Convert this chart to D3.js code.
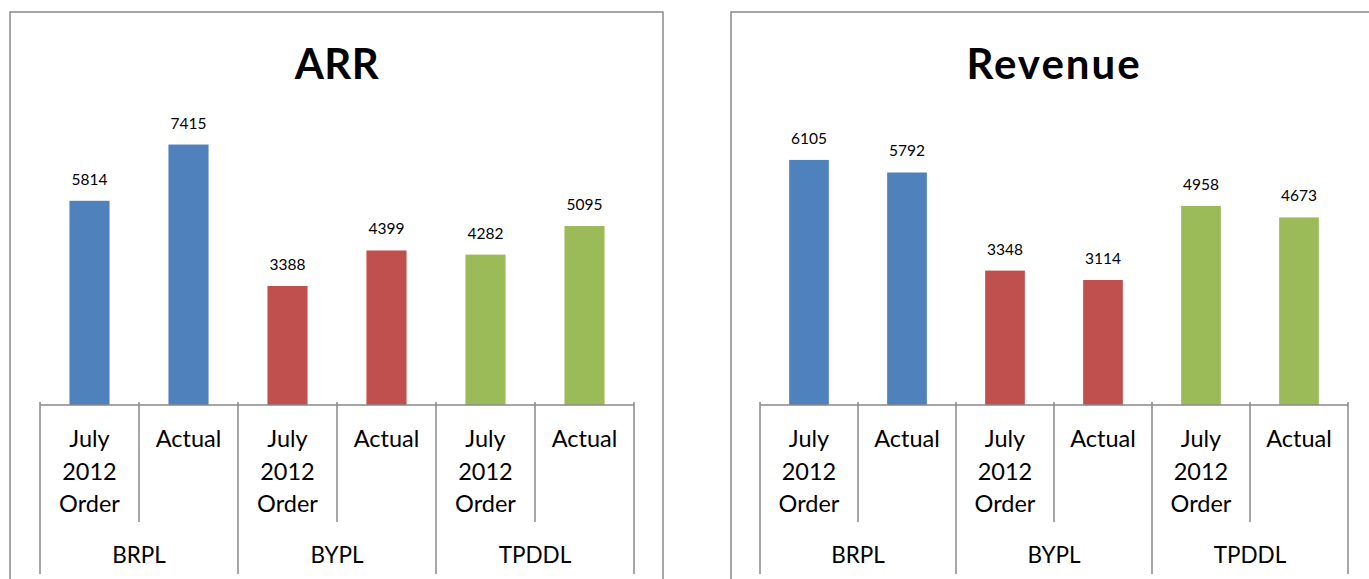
<!DOCTYPE html>
<html><head><meta charset="utf-8">
<script src="https://cdn.jsdelivr.net/npm/d3@7"></script>
<style>body{margin:0;background:#fff}svg{display:block}</style>
</head><body>
<svg id="c" width="1369" height="579"></svg>
<script>
const groups = ["BRPL", "BYPL", "TPDDL"];
const subCategories = ["July 2012 Order", "Actual"];
const arrValues = [5814, 7415, 3388, 4399, 4282, 5095];
const revenueValues = [6105, 5792, 3348, 3114, 4958, 4673];
const groupColors = ["#4F81BD", "#C0504D", "#9BBB59"];

const svg = d3.select("#c");
const font = "Lato, 'Open Sans', sans-serif";

function drawChart(cfg) {
  const g = svg.append("g");
  g.append("rect").attr("x", cfg.frame[0]).attr("y", cfg.frame[1])
    .attr("width", cfg.frame[2]).attr("height", cfg.frame[3])
    .attr("fill", "none").attr("stroke", "#898989").attr("stroke-width", 1.5);
  g.append("text").attr("x", (cfg.x0 + cfg.x1) / 2).attr("y", 79)
    .attr("text-anchor", "middle").attr("font-family", font)
    .attr("font-weight", "bold").attr("font-size", 42).attr("fill", "#000")
    .attr("letter-spacing", cfg.titleSpacing)
    .text(cfg.title);

  const cats = [];
  groups.forEach(gr => subCategories.forEach(s => cats.push(gr + "|" + s)));
  const x = d3.scaleBand().domain(cats).range([cfg.x0, cfg.x1]).paddingInner(0).paddingOuter(0);
  const y = d3.scaleLinear().domain([0, cfg.max]).range([405, 124]);
  const bw = x.bandwidth() * 0.405;

  const data = cfg.values.map((v, i) => ({ key: cats[i], v, grp: Math.floor(i / 2) }));
  g.selectAll("rect.bar").data(data).enter().append("rect").attr("class", "bar")
    .attr("x", d => x(d.key) + (x.bandwidth() - bw) / 2)
    .attr("width", bw)
    .attr("y", d => y(d.v))
    .attr("height", d => y(0) - y(d.v))
    .attr("fill", d => groupColors[d.grp]);
  g.selectAll("text.lbl").data(data).enter().append("text").attr("class", "lbl")
    .attr("x", d => x(d.key) + x.bandwidth() / 2)
    .attr("y", d => y(d.v) - 16)
    .attr("text-anchor", "middle").attr("font-family", font).attr("font-size", 15.5)
    .attr("fill", "#000").text(d => d.v);

  const axisColor = "#898989";
  g.append("line").attr("x1", cfg.x0).attr("x2", cfg.x1).attr("y1", y(0)).attr("y2", y(0))
    .attr("stroke", axisColor).attr("stroke-width", 1.5);
  cats.forEach((c, i) => {
    if (i % 2 === 1) {
      g.append("line").attr("x1", x(c)).attr("x2", x(c)).attr("y1", 402).attr("y2", 522)
        .attr("stroke", axisColor).attr("stroke-width", 1.5);
    }
  });
  for (let gi = 0; gi <= groups.length; gi++) {
    const xx = gi < groups.length ? x(cats[gi * 2]) : cfg.x1;
    g.append("line").attr("x1", xx).attr("x2", xx).attr("y1", 402).attr("y2", 574)
      .attr("stroke", axisColor).attr("stroke-width", 1.5);
  }
  cats.forEach(c => {
    const sub = c.split("|")[1];
    const lines = sub === "Actual" ? ["Actual"] : ["July", "2012", "Order"];
    const t = g.append("text").attr("text-anchor", "middle").attr("font-family", font)
      .attr("font-size", 23.5).attr("fill", "#000");
    lines.forEach((ln, li) => {
      t.append("tspan").attr("x", x(c) + x.bandwidth() / 2).attr("y", 447 + li * 32.5).text(ln);
    });
  });
  groups.forEach((gr, gi) => {
    g.append("text").attr("x", x(cats[gi * 2]) + x.bandwidth()).attr("y", 563)
      .attr("text-anchor", "middle").attr("font-family", font).attr("font-size", 22.5)
      .attr("fill", "#000").text(gr);
  });
}

drawChart({ title: "ARR", values: arrValues, max: 8000, x0: 40, x1: 634, frame: [10, 12, 653, 600], titleSpacing: 0.5 });
drawChart({ title: "Revenue", values: revenueValues, max: 7000, x0: 760, x1: 1348, frame: [731, 12, 653, 600], titleSpacing: 2 });
</script>
</body></html>
